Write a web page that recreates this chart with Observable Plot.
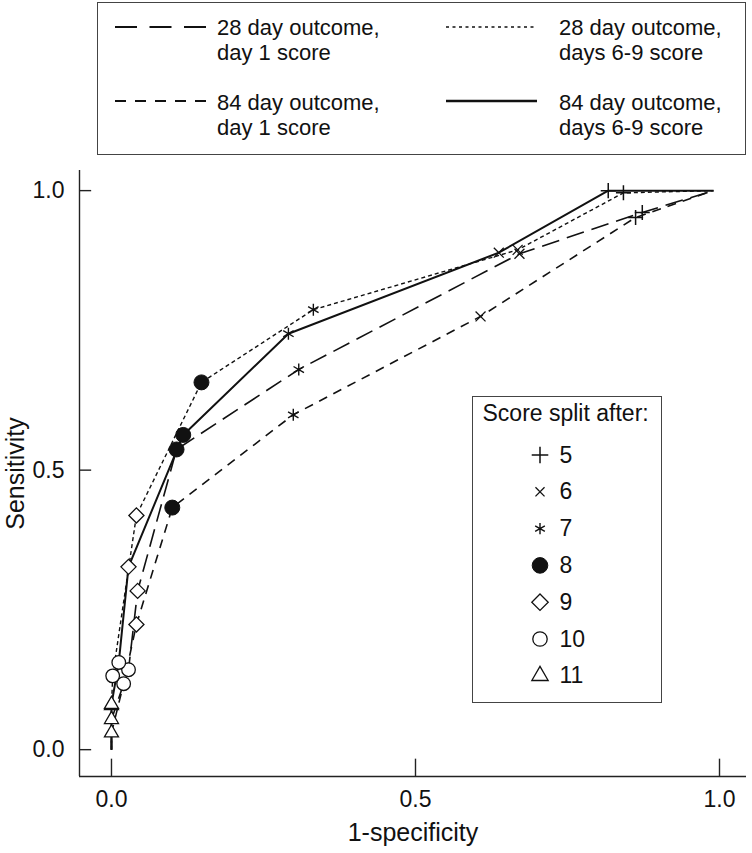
<!DOCTYPE html>
<html>
<head>
<meta charset="utf-8">
<script src="https://cdn.jsdelivr.net/npm/d3@7"></script>
<script src="https://cdn.jsdelivr.net/npm/@observablehq/plot@0.6"></script>
<style>
  html, body { margin: 0; padding: 0; background: #fff; }
  body { font-family: "Liberation Sans", sans-serif; color: #111; }
  #wrap { position: relative; width: 752px; height: 853px; overflow: hidden; background: #fff; }
  .box { position: absolute; box-sizing: border-box; border: 1.5px solid #444; background: #fff; }
  .txt { position: absolute; white-space: nowrap; color: #111; }
  .abs { position: absolute; overflow: visible; }
  #chart { position: absolute; left: 0; top: 160px; }
</style>
</head>
<body>
<div id="wrap">
  <div id="chart"></div>
  <div id="topLegend" class="box" style="left:97px;top:2px;width:649px;height:153px"></div>
  <div id="symLegend" class="box" style="left:472px;top:396px;width:190px;height:307px"></div>
</div>
<script>
// ---- Data ----
// Score split points, in the order they appear along each curve (5 = top right ... 11 = bottom left)
const splitScores = [5, 6, 7, 8, 9, 10, 11];
const seriesLabels = [
  "28 day outcome, day 1 score",
  "84 day outcome, day 1 score",
  "28 day outcome, days 6-9 score",
  "84 day outcome, days 6-9 score"
];
// 1-specificity and sensitivity at each split score (5..11)
const fpr28Day1   = [0.873, 0.671, 0.308, 0.107, 0.043, 0.028, 0.000];
const sens28Day1  = [0.961, 0.887, 0.680, 0.537, 0.284, 0.143, 0.054];
const fpr84Day1   = [0.862, 0.607, 0.299, 0.100, 0.041, 0.020, 0.000];
const sens84Day1  = [0.952, 0.775, 0.599, 0.433, 0.224, 0.118, 0.030];
const fpr28Day69  = [0.842, 0.668, 0.332, 0.148, 0.041, 0.002, 0.000];
const sens28Day69 = [0.996, 0.894, 0.787, 0.657, 0.419, 0.132, 0.079];
const fpr84Day69  = [0.817, 0.637, 0.291, 0.118, 0.028, 0.012, 0.000];
const sens84Day69 = [1.000, 0.889, 0.744, 0.563, 0.327, 0.156, 0.081];
// every curve starts at (0,0) and ends at the top right corner
const curveStart = [0.0, 0.0];
const curveEnd = [0.99, 1.0];
// axis ticks and titles
const xTicks = [0, 0.5, 1];
const yTicks = [0, 0.5, 1];
const xTitle = "1-specificity";
const yTitle = "Sensitivity";
const legendTitle = "Score split after:";

// ---- Styles ----
const INK = "#111";
const FONT = "'Liberation Sans', Arial, sans-serif";
const lineStyles = [
  {dash: "18,8", width: 1.6, legendDash: "22,12.5", legendWidth: 1.8},
  {dash: "9,7", width: 1.6, legendDash: "11,9", legendWidth: 1.8},
  {dash: "4,3", width: 1.4, legendDash: "3,3.5", legendWidth: 1.4},
  {dash: null, width: 2.0, legendDash: null, legendWidth: 2.5}
];
const symbolStyles = {
  5:  {symbol: "plus",     r: 4.9,  lr: 5.4, fill: "none",  sw: 1.5},
  6:  {symbol: "times",    r: 4.6,  lr: 4.2, fill: "none",  sw: 1.3},
  7:  {symbol: "asterisk", r: 5.7,  lr: 5.3, fill: "none",  sw: 1.4},
  8:  {symbol: "circle",   r: 7.5,  lr: 7.8, fill: INK,     sw: 1.0},
  9:  {symbol: "diamond2", r: 6.8,  lr: 7.4, fill: "white", sw: 1.3},
  10: {symbol: "circle",   r: 6.8,  lr: 7.2, fill: "white", sw: 1.3},
  11: {symbol: "triangle2",r: 6.7,  lr: 7.8, fill: "white", sw: 1.3}
};
const d3Symbols = {
  plus: d3.symbolPlus, times: d3.symbolTimes, asterisk: d3.symbolAsterisk,
  circle: d3.symbolCircle, diamond2: d3.symbolDiamond2, triangle2: d3.symbolTriangle2
};

// ---- Build tables ----
const seriesX = [fpr28Day1, fpr84Day1, fpr28Day69, fpr84Day69];
const seriesY = [sens28Day1, sens84Day1, sens28Day69, sens84Day69];
const points = [];
seriesLabels.forEach((name, si) => {
  splitScores.forEach((s, i) => {
    points.push({series: name, si, split: s, x: seriesX[si][i], y: seriesY[si][i]});
  });
});
function curve(si) {
  const rows = [{x: curveStart[0], y: curveStart[1]}];
  for (let i = splitScores.length - 1; i >= 0; --i) rows.push({x: seriesX[si][i], y: seriesY[si][i]});
  rows.push({x: curveEnd[0], y: curveEnd[1]});
  return rows;
}

const xDomain = [-0.0526, 1.0444];
const yDomain = [-0.048, 1.036];

const marks = [
  Plot.ruleX([xDomain[0]], {stroke: "#222", strokeWidth: 1.4}),
  Plot.ruleY([yDomain[0]], {stroke: "#222", strokeWidth: 1.4}),
  Plot.ruleX(xTicks, {x: d => d, y1: yDomain[0], y2: yDomain[0] + 0.031, stroke: "#222", strokeWidth: 1.4}),
  Plot.ruleY(yTicks, {y: d => d, x1: xDomain[0], x2: xDomain[0] + 0.02, stroke: "#222", strokeWidth: 1.4}),
  Plot.axisX({ticks: xTicks, tickFormat: d3.format(".1f"), tickSize: 0, tickPadding: 14, fontSize: 23, label: null}),
  Plot.axisY({ticks: yTicks, tickFormat: d3.format(".1f"), tickSize: 0, tickPadding: 15, fontSize: 23, label: null}),
  Plot.text([xTitle], {frameAnchor: "bottom", dy: 64, lineAnchor: "bottom", textAnchor: "middle", fontSize: 25, fill: INK}),
  Plot.text([yTitle], {frameAnchor: "left", dx: -73, rotate: -90, lineAnchor: "top", textAnchor: "middle", fontSize: 25, fill: INK})
];
seriesLabels.forEach((name, si) => {
  const st = lineStyles[si];
  marks.push(Plot.line(curve(si), {x: "x", y: "y", stroke: INK, strokeWidth: st.width,
    strokeDasharray: st.dash || undefined, strokeLinejoin: "round", strokeLinecap: "butt"}));
});
splitScores.forEach(s => {
  const st = symbolStyles[s];
  marks.push(Plot.dot(points.filter(p => p.split === s), {
    x: "x", y: "y", symbol: () => st.symbol, r: st.r,
    fill: st.fill, stroke: INK, strokeWidth: st.sw
  }));
});

const chart = Plot.plot({
  width: 752, height: 693,
  marginLeft: 79, marginRight: 6, marginTop: 10, marginBottom: 77,
  style: {fontFamily: FONT, fontSize: "23px", color: INK, background: "transparent", overflow: "visible"},
  symbol: {type: "identity"},
  x: {domain: xDomain},
  y: {domain: yDomain},
  marks
});
document.getElementById("chart").appendChild(chart);

// ---- Top legend (line styles) ----
const wrap = document.getElementById("wrap");
function addText(parent, str, left, baseline, size) {
  // place a text so that its baseline sits at `baseline` (Liberation Sans ascent 0.905em)
  const div = document.createElement("div");
  div.className = "txt";
  div.style.fontSize = size + "px";
  div.style.lineHeight = Math.round(size * 1.117) + "px";
  const half = (Math.round(size * 1.117) - size * 1.117) / 2;
  div.style.left = left + "px";
  div.style.top = (baseline - half - size * 0.905) + "px";
  div.textContent = str;
  parent.appendChild(div);
  return div;
}
const LINE_GAP = 25;
const legendPos = [
  {sx0: 115, sx1: 206, sy: 27, tx: 217, base: 35},
  {sx0: 115, sx1: 206, sy: 101, tx: 217, base: 110},
  {sx0: 446, sx1: 537, sy: 27, tx: 559, base: 35},
  {sx0: 446, sx1: 537, sy: 101, tx: 559, base: 110}
];
const samples = d3.select(wrap).append("svg").attr("class", "abs")
  .style("left", "0px").style("top", "0px").attr("width", 752).attr("height", 160)
  .style("pointer-events", "none").style("z-index", 2);
seriesLabels.forEach((name, si) => {
  const p = legendPos[si], st = lineStyles[si];
  samples.append("line").attr("x1", p.sx0).attr("x2", p.sx1).attr("y1", p.sy).attr("y2", p.sy)
    .attr("stroke", INK).attr("stroke-width", st.legendWidth)
    .attr("stroke-dasharray", st.legendDash);
  const cut = name.indexOf(", ");
  const lines = [name.slice(0, cut + 1), name.slice(cut + 2)];
  lines.forEach((ln, li) => {
    const d = addText(wrap, ln, p.tx, p.base + li * LINE_GAP, 22);
    d.style.zIndex = 3;
  });
});

// ---- Symbol legend ----
const sl = document.getElementById("symLegend");
sl.style.zIndex = 4;
const B = 1.5; // border width
addText(sl, legendTitle, 483 - 472 - B, 421 - 396 - B, 23);
const sym = d3.select(sl).append("svg").attr("class", "abs")
  .style("left", -B + "px").style("top", -B + "px").attr("width", 190).attr("height", 307);
splitScores.forEach((s, i) => {
  const base = 463 + i * 36.8;
  const st = symbolStyles[s];
  sym.append("path")
    .attr("transform", `translate(${540 - 472},${base - 8 - 396})`)
    .attr("d", d3.symbol(d3Symbols[st.symbol], Math.PI * st.lr * st.lr)())
    .attr("fill", st.fill === "none" ? "none" : st.fill)
    .attr("stroke", INK).attr("stroke-width", st.sw);
  addText(sl, String(s), 560 - 472 - B, base - 396 - B, 23);
});
</script>
</body>
</html>
